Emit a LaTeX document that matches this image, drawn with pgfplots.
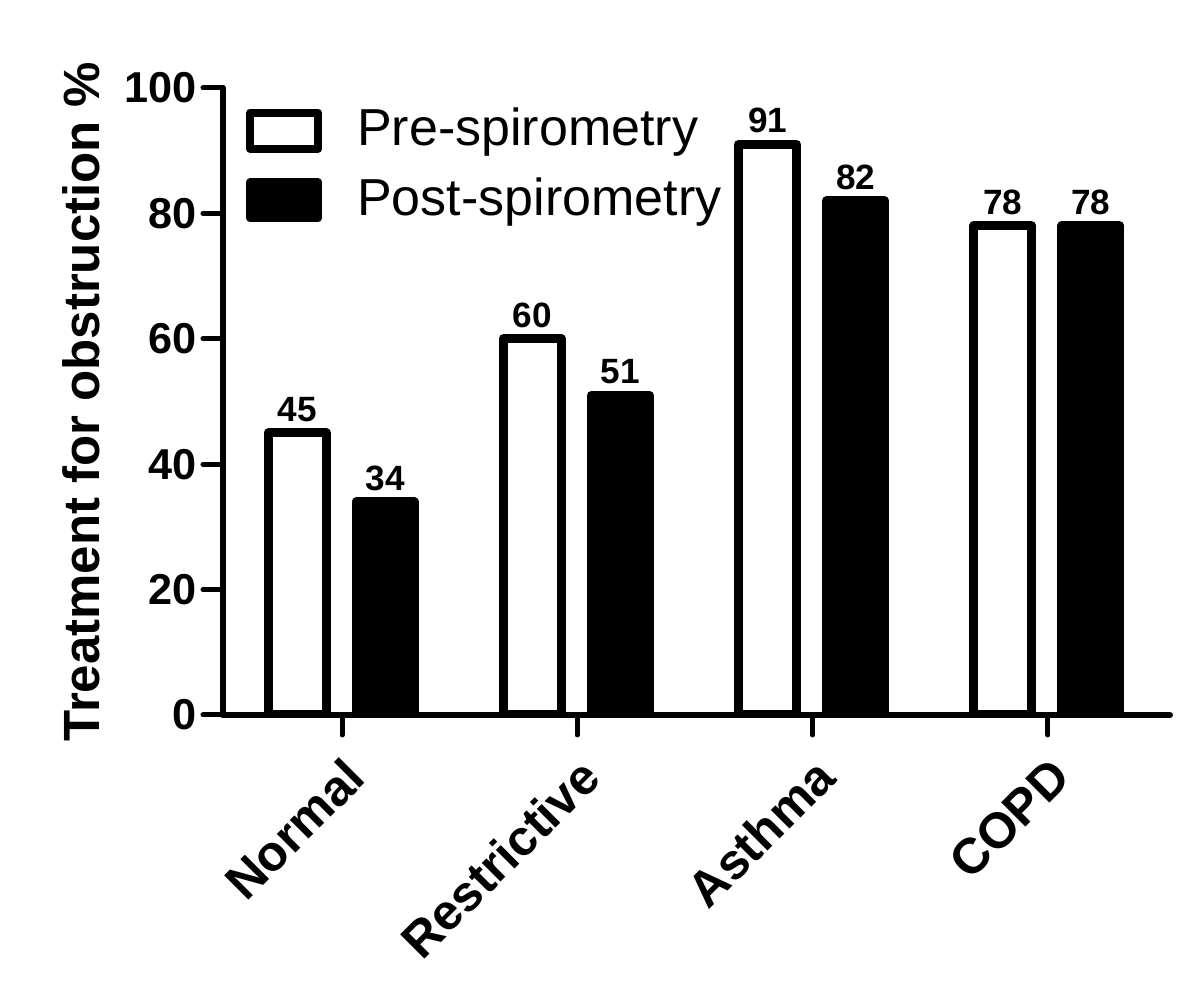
\documentclass[border=0pt]{standalone}
\usepackage{fontspec}
\setmainfont{Liberation Sans}
\usepackage{pgfplots}
\pgfplotsset{compat=1.18}
\begin{document}
\begin{tikzpicture}
\useasboundingbox (-2.23,-2.85) rectangle (9.77,7.15);
\begin{axis}[
  scale only axis, width=9.47cm, height=6.27cm,
  at={(0,0)}, anchor=south west,
  xmin=-0.506, xmax=3.519, ymin=0, ymax=100,
  axis x line*=bottom, axis y line*=left,
  axis line style={line width=0.06cm, line cap=round},
  major tick length=0.2cm, tick align=outside,
  every tick/.style={line width=0.05cm, black, line cap=round},
  xtick={0,1,2,3}, xticklabels={Normal,Restrictive,Asthma,COPD},
  ytick={0,20,40,60,80,100},
  /pgf/number format/assume math mode=true,
  yticklabel style={font=\fontsize{12.3}{14}\selectfont\bfseries, xshift=0.06cm},
  xticklabel style={font=\fontsize{14.2}{16}\selectfont\bfseries, rotate=45, anchor=north east, xshift=-0.02cm, yshift=-0.02cm},
  ylabel={Treatment for obstruction \%},
  ylabel style={font=\fontsize{14.5}{16}\selectfont\bfseries},
  ybar,
  bar width=0.58cm,
  nodes near coords,
  every node near coord/.append style={font=\fontsize{10}{11}\selectfont\bfseries, text=black, yshift=-0.05cm},
  legend style={at={(0,1)}, anchor=north west, draw=none, fill=none,
    xshift=0.12cm, yshift=-0.13cm,
    font=\fontsize{14.8}{16}\selectfont,
    nodes={inner sep=0pt, text height=0.36cm, text depth=0.1cm},
    row sep=0.225cm,
    /tikz/every odd column/.append style={column sep=0.35cm}},
  legend cell align=left,
]
\addplot[ybar, bar shift=-0.45cm, draw=black, fill=white, line width=0.09cm, line join=round,
  legend image code/.code={\draw[line width=0.08cm, draw=black, fill=white, line join=round] (0cm,-0.16cm) rectangle (0.68cm,0.2cm);}]
  coordinates {(0,45) (1,60) (2,91) (3,78)};
\addlegendentry{Pre-spirometry}
\addplot[ybar, bar shift=0.43cm, draw=black, fill=black, line width=0.09cm, line join=round,
  legend image code/.code={\draw[line width=0.08cm, draw=black, fill=black, line join=round] (0cm,-0.16cm) rectangle (0.68cm,0.2cm);}]
  coordinates {(0,34) (1,51) (2,82) (3,78)};
\addlegendentry{Post-spirometry}
\end{axis}
\end{tikzpicture}
\end{document}
